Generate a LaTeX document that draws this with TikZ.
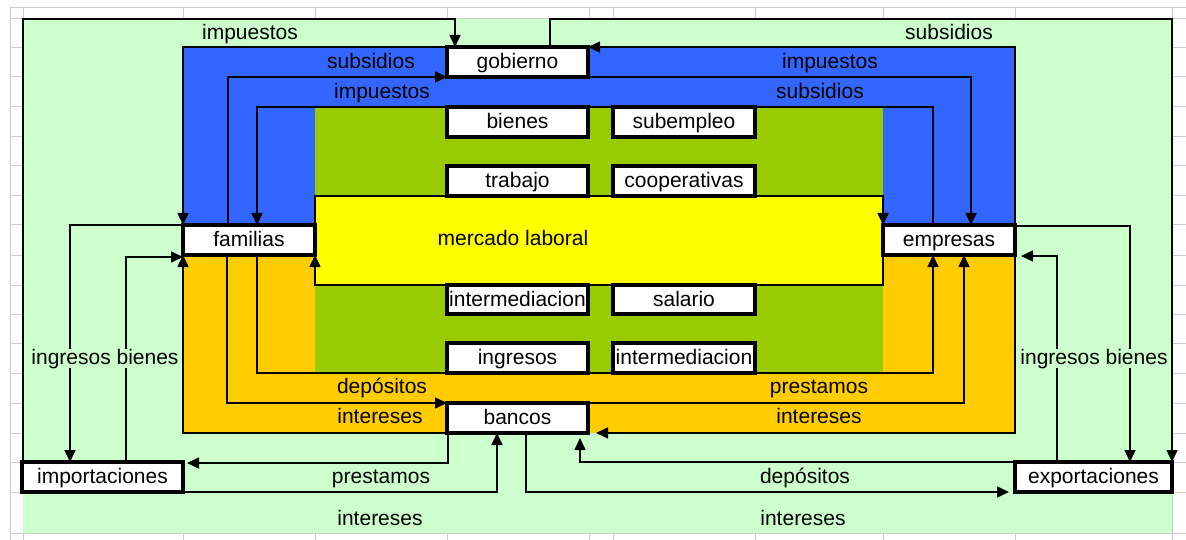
\documentclass[tikz,border=0pt]{standalone}
\usepackage{fontspec}
\setmainfont{Liberation Sans}
\usetikzlibrary{arrows.meta}
\pgfdeclarelayer{bg}\pgfdeclarelayer{fg}\pgfsetlayers{bg,main,fg}
\definecolor{lg}{HTML}{CCFFCC}
\definecolor{blu}{HTML}{3366FF}
\definecolor{grn}{HTML}{99CC00}
\definecolor{yel}{HTML}{FFFF00}
\definecolor{org}{HTML}{FFCC00}
\definecolor{gridc}{HTML}{CDCDCD}
\newcommand{\fs}{\fontsize{21}{24}\selectfont}
\begin{document}
\begin{tikzpicture}[x=1pt,y=-1pt,
  box/.style={draw=black,line width=3.2pt,fill=white,inner sep=0pt,outer sep=0pt,
    minimum height=30pt,text height=15pt,text depth=2pt,font=\fs},
  lbl/.style={inner sep=0pt,text height=15pt,text depth=2pt,font=\fs},
  lblf/.style={lbl,fill=lg,inner sep=1pt},
  conn/.style={draw=black,line width=1.5pt},
  arr/.style={conn,-{Triangle[length=12pt,width=11pt]}},
  gridl/.style={draw=gridc,line width=1pt}]
\useasboundingbox (0,0) rectangle (1186,540);
\begin{pgfonlayer}{bg}
  \fill[white] (0,0) rectangle (1186,540);
  \foreach \r in {8,19,48,77,107,137,166,196,225,255,285,314,343,373,403,433,462,492,533}
    \draw[gridl] (10,\r) -- (1186,\r);
  \foreach \c in {10,23,183,315,447,589,613,755,883,1015,1172}
    \draw[gridl] (\c,8) -- (\c,540);
  \fill[lg] (23,19) rectangle (1172,533);
  \fill[blu] (183,47) rectangle (1015,240);
  \fill[org] (183,240) rectangle (1015,433);
  \fill[grn] (315,107) rectangle (883,373);
  \fill[yel] (315,196) rectangle (883,285);
\end{pgfonlayer}
\begin{pgfonlayer}{fg}
  \node[box,minimum width=141pt] (gobierno) at (517.5,62) {gobierno};
  \node[box,minimum width=141pt] (bienes) at (517.5,122) {bienes};
  \node[box,minimum width=142pt] (subempleo) at (684,122) {subempleo};
  \node[box,minimum width=141pt] (trabajo) at (517.5,181) {trabajo};
  \node[box,minimum width=142pt] (cooperativas) at (684,181) {cooperativas};
  \node[box,minimum width=141pt,minimum height=29pt] (interm1) at (517.5,299.5) {intermediacion};
  \node[box,minimum width=142pt,minimum height=29pt] (salario) at (684,299.5) {salario};
  \node[box,minimum width=141pt] (ingresos) at (517.5,358) {ingresos};
  \node[box,minimum width=142pt] (interm2) at (684,358) {intermediacion};
  \node[box,minimum width=141pt] (bancos) at (517.5,418) {bancos};
  \node[box,minimum width=132pt] (familias) at (249,240) {familias};
  \node[box,minimum width=132pt] (empresas) at (949,240) {empresas};
  \node[box,minimum width=161pt] (importaciones) at (102.5,477) {importaciones};
  \node[box,minimum width=157pt] (exportaciones) at (1093.5,477) {exportaciones};
  \node[lblf] (ib1) at (105,358) {ingresos bienes};
  \node[lblf] (ib2) at (1094,358) {ingresos bienes};
\end{pgfonlayer}
% labels
\node[lbl] (l1) at (250,33) {impuestos};
\node[lbl] (l2) at (949,33) {subsidios};
\node[lbl] (l3) at (371,62) {subsidios};
\node[lbl] (l4) at (382,92) {impuestos};
\node[lbl] (l5) at (830,62) {impuestos};
\node[lbl] (l6) at (820,92) {subsidios};
\node[lbl] (ml) at (513,239) {mercado laboral};
\node[lbl] (l7) at (382,387) {depósitos};
\node[lbl] (l8) at (380,417) {intereses};
\node[lbl] (l9) at (819,387) {prestamos};
\node[lbl] (l10) at (819,417) {intereses};
\node[lbl] (l11) at (381,477) {prestamos};
\node[lbl] (l12) at (805,477) {depósitos};
\node[lbl] (l13) at (380,519) {intereses};
\node[lbl] (l14) at (803,519) {intereses};
% connectors
\draw[arr] ([xshift=1pt]importaciones.north west) |- (455,19) -- ([xshift=-62.5pt]gobierno.north);
\draw[arr] ([xshift=32.5pt]gobierno.north) |- (1172,19) -- (exportaciones.north east);
\draw[arr] (gobierno.north west) -| (familias.north west);
\draw[arr] (empresas.north east) |- (gobierno.north east);
\draw[arr] ([xshift=-21pt]familias.north) |- (gobierno.south west);
\draw[arr] (gobierno.south east) -| ([xshift=22pt]empresas.north);
\draw[arr] ([xshift=-16pt]empresas.north) |- (257,107) -- ([xshift=8pt]familias.north);
\draw[arr] (familias.north east) |- (883,196) -- (empresas.north west);
\draw[arr] (empresas.south west) |- (315,285) -- (familias.south east);
\draw[arr] ([xshift=8pt]familias.south) |- (933,373) -- ([xshift=-16pt]empresas.south);
\draw[arr] ([xshift=-22pt]familias.south) |- (bancos.north west);
\draw[arr] (bancos.north east) -| ([xshift=15pt]empresas.south);
\draw[arr] (bancos.south west) -| (familias.south west);
\draw[arr,shorten >=8pt] (empresas.south east) |- (bancos.south east);
\draw[arr] (familias.north west) -| ([xshift=-32.5pt]importaciones.north);
\draw[arr] ([xshift=23.5pt]importaciones.north) |- ([yshift=-2pt]familias.south west);
\draw[arr] ([yshift=-1pt]empresas.north east) -| ([xshift=36.5pt]exportaciones.north);
\draw[arr,shorten >=6pt] ([xshift=-36.5pt]exportaciones.north) |- ([yshift=-1pt]empresas.south east);
\draw[arr,shorten >=4pt] ([xshift=1pt]bancos.south west) |- ([yshift=-1pt]importaciones.north east);
\draw[arr] (importaciones.south east) -| ([xshift=-20.5pt]bancos.south);
\draw[arr,shorten >=5pt] (exportaciones.north west) -| ([xshift=62.5pt]bancos.south);
\draw[arr,shorten >=6pt] ([xshift=8.5pt]bancos.south) |- (exportaciones.south west);
\end{tikzpicture}
\end{document}
